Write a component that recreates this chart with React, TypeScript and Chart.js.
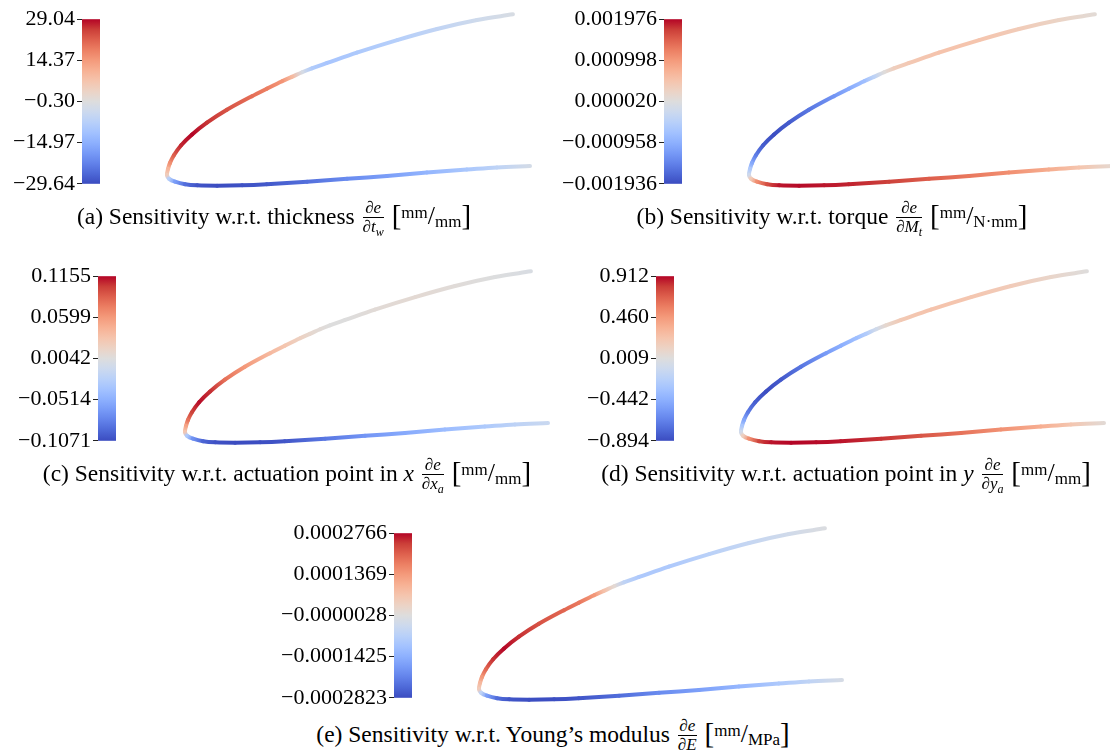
import React, { useEffect, useRef } from "react";
import { Chart, registerables } from "chart.js";

Chart.register(...registerables);

const FONT = '"Liberation Serif", "Times New Roman", serif';

// Contour of the finger [mm]: upper-branch end -> tip -> lower-branch end
const contourX = [95.3, 85.4, 74.4, 63.4, 52.3, 44.1, 39.9, 37.2, 34.4, 31.7, 27.5, 23.4, 16.5, 11.0, 6.9, 3.9, 1.9, 0.8, 0.3, 0, 0.6, 2.2, 5.0, 8.3, 13.8, 20.7, 27.5, 38.6, 49.6, 60.6, 71.6, 82.6, 90.9, 100.0];
const contourY = [44.9, 43.3, 40.8, 37.7, 34.2, 31.3, 29.8, 28.7, 27.4, 26.2, 24.1, 22.0, 18.2, 14.6, 11.3, 8.3, 5.5, 3.3, 1.7, 0, -1.1, -1.9, -2.6, -2.9, -3.0, -2.9, -2.6, -1.9, -1.1, -0.3, 0.7, 1.5, 2.1, 2.5];

// Sensitivity values along the contour
const sensThickness = [-1.5, -3.5, -6, -8, -9.5, -10.5, -9, -2, 9, 15, 18, 20, 23, 26, 29, 27, 22, 16, 10, 5, -8, -18, -25, -28.5, -29.5, -29, -28, -25, -21, -18, -14, -10, -6.5, -2.5];
const sensTorque = [0.0001, 0.00025, 0.0004, 0.0005, 0.00052, 0.00045, 0.00035, 0.00005, -0.0004, -0.00075, -0.001, -0.00125, -0.00155, -0.0018, -0.00192, -0.0018, -0.0015, -0.00105, -0.0006, -0.0002, 0.0004, 0.0011, 0.0016, 0.0019, 0.00195, 0.0019, 0.00185, 0.0017, 0.0015, 0.0013, 0.0011, 0.0008, 0.0005, 0.00015];
const sensActX = [0.0, 0.003, 0.007, 0.01, 0.008, 0.004, 0.004, 0.008, 0.013, 0.02, 0.03, 0.04, 0.06, 0.08, 0.105, 0.113, 0.1, 0.08, 0.055, 0.03, -0.03, -0.07, -0.095, -0.104, -0.107, -0.106, -0.102, -0.085, -0.068, -0.055, -0.042, -0.03, -0.02, -0.012];
const sensActY = [0.02, 0.1, 0.18, 0.22, 0.24, 0.2, 0.08, -0.08, -0.25, -0.35, -0.45, -0.55, -0.72, -0.84, -0.89, -0.82, -0.7, -0.5, -0.3, -0.08, 0.15, 0.5, 0.78, 0.88, 0.91, 0.9, 0.88, 0.82, 0.72, 0.62, 0.5, 0.36, 0.22, 0.05];
const sensYoung = [-0.00001, -0.00003, -0.00005, -0.00007, -0.00009, -0.00009, -0.00006, 0.00001, 0.00007, 0.00014, 0.00018, 0.0002, 0.00022, 0.00025, 0.000275, 0.00025, 0.0002, 0.00014, 0.00009, 0.00005, -0.00006, -0.00017, -0.00024, -0.00027, -0.00028, -0.00028, -0.00027, -0.00024, -0.0002, -0.00017, -0.00013, -0.00009, -0.00006, -0.00002];

// Colorbar ticks
const ticksThickness = [-29.64, -14.97, -0.3, 14.37, 29.04];
const ticksTorque = [-0.001936, -0.000958, 0.00002, 0.000998, 0.001976];
const ticksActX = [-0.1071, -0.0514, 0.0042, 0.0599, 0.1155];
const ticksActY = [-0.894, -0.442, 0.009, 0.46, 0.912];
const ticksYoung = [-0.0002823, -0.0001425, -0.0000028, 0.0001369, 0.0002766];

const labelsThickness = ["\u221229.64", "\u221214.97", "\u22120.30", "14.37", "29.04"];
const labelsTorque = ["\u22120.001936", "\u22120.000958", "0.000020", "0.000998", "0.001976"];
const labelsActX = ["\u22120.1071", "\u22120.0514", "0.0042", "0.0599", "0.1155"];
const labelsActY = ["\u22120.894", "\u22120.442", "0.009", "0.460", "0.912"];
const labelsYoung = ["\u22120.0002823", "\u22120.0001425", "\u22120.0000028", "0.0001369", "0.0002766"];

// Captions
const captionTags = ["(a)", "(b)", "(c)", "(d)", "(e)"];
const captionTexts = [
  "Sensitivity w.r.t. thickness",
  "Sensitivity w.r.t. torque",
  "Sensitivity w.r.t. actuation point in",
  "Sensitivity w.r.t. actuation point in",
  "Sensitivity w.r.t. Young\u2019s modulus",
];
const captionVars = ["", "", "x", "y", ""];
const denomSymbols = ["t", "M", "x", "y", "E"];
const denomSubs = ["w", "t", "a", "a", ""];
const unitNums = ["mm", "mm", "mm", "mm", "mm"];
const unitDens = ["mm", "N\u00b7mm", "mm", "mm", "MPa"];

const coolwarm = [
  [59, 76, 192], [77, 104, 215], [98, 130, 234], [119, 154, 247], [141, 176, 254],
  [163, 194, 255], [184, 208, 249], [204, 217, 238], [221, 221, 221], [236, 211, 197],
  [245, 196, 173], [247, 177, 148], [244, 154, 123], [236, 127, 99], [222, 96, 77],
  [203, 62, 56], [180, 4, 38],
];

function colorAt(t: number): string {
  const c = Math.max(0, Math.min(1, t)) * (coolwarm.length - 1);
  const i = Math.min(coolwarm.length - 2, Math.floor(c));
  const f = c - i;
  const a = coolwarm[i], b = coolwarm[i + 1];
  const r = Math.round(a[0] + (b[0] - a[0]) * f);
  const g = Math.round(a[1] + (b[1] - a[1]) * f);
  const bl = Math.round(a[2] + (b[2] - a[2]) * f);
  return `rgb(${r},${g},${bl})`;
}

// layout constants (pixels)
const AXIS_W = 115;
const PAD_V = 14;
const CB_H = 167;
const CB_W = 18;
const PX_PER_MM = 3.63;
const TIP_UP = 9;
const CURVE_W = 100 * PX_PER_MM;

const panels = [
  { values: sensThickness, ticks: ticksThickness, labels: labelsThickness, cbLeft: 82, cbTop: 18, tipDx: 85 },
  { values: sensTorque, ticks: ticksTorque, labels: labelsTorque, cbLeft: 664, cbTop: 18, tipDx: 85 },
  { values: sensActX, ticks: ticksActX, labels: labelsActX, cbLeft: 98, cbTop: 275, tipDx: 87 },
  { values: sensActY, ticks: ticksActY, labels: labelsActY, cbLeft: 656, cbTop: 275, tipDx: 85 },
  { values: sensYoung, ticks: ticksYoung, labels: labelsYoung, cbLeft: 394, cbTop: 532, tipDx: 85 },
];

const captionPos = [
  { cx: 274, cy: 213 },
  { cx: 832, cy: 213 },
  { cx: 287, cy: 470 },
  { cx: 846, cy: 470 },
  { cx: 553, cy: 731 },
];

function Panel({ p }: { p: any }) {
  const ref = useRef<HTMLCanvasElement>(null);
  const W = AXIS_W + p.tipDx + CURVE_W + 24;
  const H = CB_H + 2 * PAD_V;
  useEffect(() => {
    if (!ref.current) return;
    const lo = p.ticks[0];
    const hi = p.ticks[p.ticks.length - 1];
    const norm = (v: number) => (v - lo) / (hi - lo);
    const xMin = -p.tipDx / PX_PER_MM;
    const xMax = xMin + (W - AXIS_W) / PX_PER_MM;
    const yMin = -TIP_UP / PX_PER_MM;
    const yMax = yMin + CB_H / PX_PER_MM;
    const vals: number[] = p.values;

    const colorbarPlugin = {
      id: "colorbar",
      beforeDatasetsDraw(chart: any) {
        const s = chart.scales.cb;
        const top = s.getPixelForValue(hi);
        const bot = s.getPixelForValue(lo);
        const left = chart.chartArea.left;
        const ctx = chart.ctx;
        const g = ctx.createLinearGradient(0, bot, 0, top);
        coolwarm.forEach((c, i) => g.addColorStop(i / (coolwarm.length - 1), `rgb(${c[0]},${c[1]},${c[2]})`));
        ctx.save();
        ctx.fillStyle = g;
        ctx.fillRect(left, top, CB_W, bot - top);
        ctx.restore();
      },
    };

    const chart = new Chart(ref.current, {
      type: "line",
      data: {
        datasets: [
          {
            data: contourX.map((x, i) => ({ x, y: contourY[i] })),
            borderColor: "#dddddd",
            borderWidth: 4,
            pointRadius: 0,
            tension: 0.35,
            clip: false,
            borderCapStyle: "round",
            borderJoinStyle: "round",
            xAxisID: "x",
            yAxisID: "y",
            segment: {
              borderColor: (ctx: any) => {
                const i0 = ctx.p0DataIndex;
                const i1 = ctx.p1DataIndex;
                const g = ctx.chart.ctx.createLinearGradient(ctx.p0.x, ctx.p0.y, ctx.p1.x, ctx.p1.y);
                g.addColorStop(0, colorAt(norm(vals[i0])));
                g.addColorStop(1, colorAt(norm(vals[i1])));
                return g;
              },
              borderDashOffset: (ctx: any) => ctx.p0DataIndex,
            },
          } as any,
        ],
      },
      options: {
        animation: false,
        responsive: false,
        maintainAspectRatio: false,
        events: [],
        layout: { padding: { top: PAD_V, bottom: PAD_V, left: 0, right: 0 } },
        plugins: { legend: { display: false }, tooltip: { enabled: false }, title: { display: false } },
        scales: {
          x: { type: "linear", display: false, min: xMin, max: xMax },
          y: { type: "linear", display: false, min: yMin, max: yMax },
          cb: {
            type: "linear",
            axis: "y",
            position: "left",
            min: lo,
            max: hi,
            afterBuildTicks: (s: any) => {
              s.ticks = p.ticks.map((v: number) => ({ value: v }));
            },
            afterFit: (s: any) => {
              s.width = AXIS_W;
            },
            ticks: {
              autoSkip: false,
              padding: 2,
              color: "#000",
              font: { family: FONT, size: 22 },
              callback: (_v: any, i: number) => p.labels[i],
            },
            grid: { display: true, drawOnChartArea: false, drawTicks: true, tickLength: 5, color: "#222", lineWidth: 1 },
            border: { display: false },
          },
        } as any,
      },
      plugins: [colorbarPlugin],
    });
    return () => chart.destroy();
  }, []);
  return (
    <canvas
      ref={ref}
      width={W}
      height={H}
      style={{ position: "absolute", left: p.cbLeft - AXIS_W, top: p.cbTop - PAD_V, width: W, height: H }}
    />
  );
}

function Caption({ i }: { i: number }) {
  const pos = captionPos[i];
  return (
    <div
      style={{
        position: "absolute",
        left: pos.cx - 350,
        width: 700,
        top: pos.cy - 16,
        lineHeight: "32px",
        textAlign: "center",
        fontFamily: FONT,
        fontSize: 23.5,
        whiteSpace: "nowrap",
        color: "#000",
      }}
    >
      {captionTags[i]} {captionTexts[i]}
      {captionVars[i] ? <i> {captionVars[i]}</i> : null}{" "}
      <span
        style={{
          display: "inline-flex",
          flexDirection: "column",
          verticalAlign: "middle",
          fontSize: 17,
          lineHeight: "16px",
          textAlign: "center",
          margin: "0 2px",
          position: "relative",
          top: -1,
        }}
      >
        <span style={{ borderBottom: "0.9px solid #000", padding: "0 1px 1px", fontStyle: "italic" }}>{"\u2202e"}</span>
        <span style={{ fontStyle: "italic", paddingTop: 1 }}>
          {"\u2202"}
          {denomSymbols[i]}
          {denomSubs[i] ? <sub style={{ fontSize: 12, lineHeight: 0 }}>{denomSubs[i]}</sub> : null}
        </span>
      </span>{" "}
      <span style={{ fontSize: 29, position: "relative", top: 1 }}>[</span>
      <span style={{ fontSize: 17, verticalAlign: 6 }}>{unitNums[i]}</span>
      <span style={{ fontSize: 26 }}>/</span>
      <span style={{ fontSize: 17, verticalAlign: -3 }}>{unitDens[i]}</span>
      <span style={{ fontSize: 29, position: "relative", top: 1 }}>]</span>
    </div>
  );
}

export default function App() {
  useEffect(() => {
    document.body.style.margin = "0";
    document.body.style.background = "#fff";
  }, []);
  return (
    <div style={{ position: "relative", width: 1110, height: 754, overflow: "hidden", background: "#fff" }}>
      {panels.map((p, i) => (
        <Panel key={i} p={p} />
      ))}
      {captionTags.map((_, i) => (
        <Caption key={i} i={i} />
      ))}
    </div>
  );
}
